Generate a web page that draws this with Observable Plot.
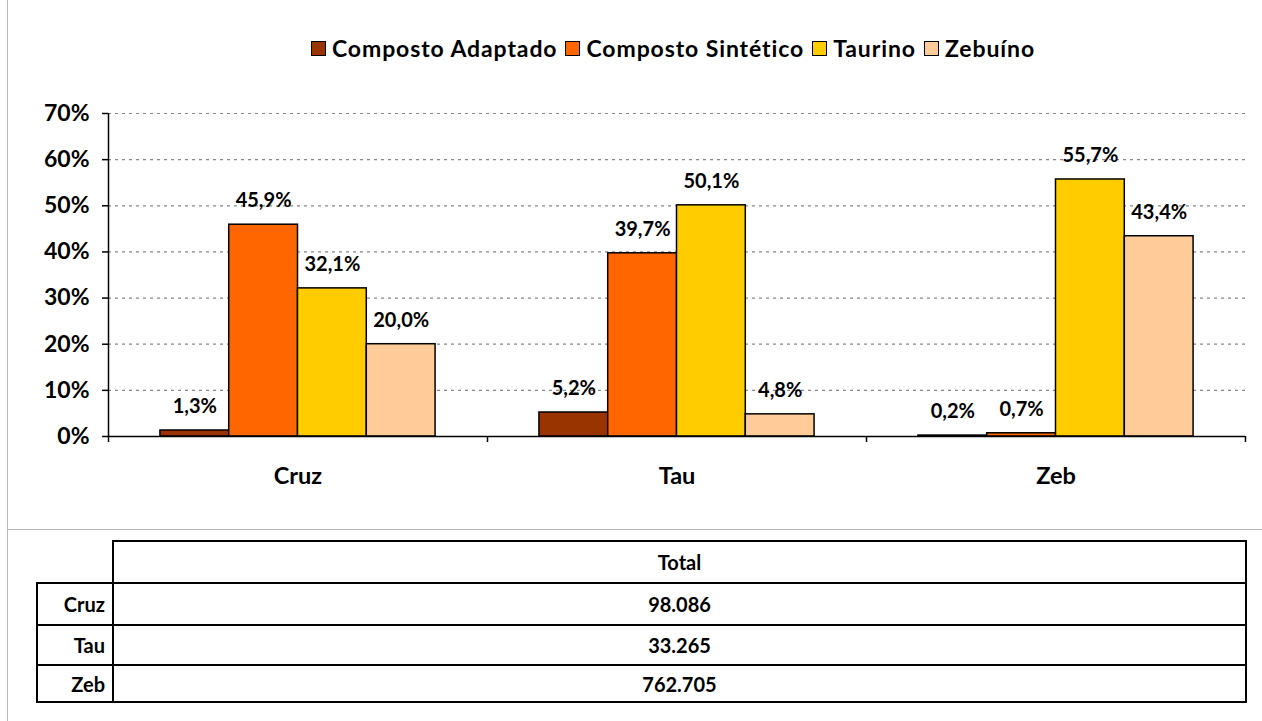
<!DOCTYPE html>
<html>
<head>
<meta charset="utf-8">
<script src="https://cdn.jsdelivr.net/npm/d3@7"></script>
<script src="https://cdn.jsdelivr.net/npm/@observablehq/plot@0.6"></script>
<style>
  body { margin: 0; background: white; font-family: Lato, "Open Sans", sans-serif; font-weight: bold; }
  #page { position: relative; width: 1262px; height: 721px; overflow: hidden; }
  #box { position: absolute; left: 7px; top: -1px; width: 1260px; height: 730px; border: 1px solid #b8b8b8; box-sizing: border-box; }
  #sep { position: absolute; left: 7px; top: 529px; width: 1255px; height: 0; border-top: 1px solid #b8b8b8; }
  #legend { position: absolute; top: 34px; left: 0; width: 1262px; height: 30px; }
  #legend .inner { position: absolute; left: 311px; top: 0; display: flex; align-items: center; font-size: 23px; letter-spacing: 0.9px; color: #000; white-space: nowrap; }
  .item { display: flex; align-items: center; margin-right: 8px; }
  .sw { width: 13px; height: 13px; border: 1.5px solid #000; margin-right: 6px; }
  #plot { position: absolute; top: 90px; left: 0; }
  table { position: absolute; left: 36px; top: 540px; width: 1211px; border-collapse: collapse; font-size: 20px; }
  td { border: 2px solid #000; padding: 0; }
  td.lab { width: 67px; text-align: right; padding-right: 7px; }
  td.val { text-align: center; }
  td.blank { border: none; border-right: 2px solid #000; border-bottom: 2px solid #000; }
</style>
</head>
<body>
<div id="page">
  <div id="box"></div>
  <div id="sep"></div>
  <div id="legend"><div class="inner"></div></div>
  <div id="plot"></div>
  <table id="tbl"></table>
</div>
<script>
const groups = ["Cruz", "Tau", "Zeb"];
const series = ["Composto Adaptado", "Composto Sintético", "Taurino", "Zebuíno"];
const colors = ["#993300", "#FF6600", "#FFCC00", "#FFCC99"];
const cruz = [1.3, 45.9, 32.1, 20.0];
const tau = [5.2, 39.7, 50.1, 4.8];
const zeb = [0.2, 0.7, 55.7, 43.4];
const tableHeader = "Total";
const totals = ["98.086", "33.265", "762.705"];
const yTicks = [0, 10, 20, 30, 40, 50, 60, 70];

const valuesByGroup = [cruz, tau, zeb];
const pad = 0.137, bw = 0.1815;
const rows = [];
groups.forEach((g, gi) => {
  series.forEach((s, si) => {
    const x1 = gi + pad + si * bw;
    rows.push({group: g, series: s, value: valuesByGroup[gi][si], x1, x2: x1 + bw, xm: x1 + bw / 2});
  });
});
const fmt = v => v.toFixed(1).replace(".", ",") + "%";

// legend
const leg = document.querySelector("#legend .inner");
series.forEach((s, i) => {
  const it = document.createElement("div");
  it.className = "item";
  const sw = document.createElement("div");
  sw.className = "sw";
  sw.style.background = colors[i];
  const t = document.createElement("span");
  t.textContent = s;
  it.appendChild(sw); it.appendChild(t);
  leg.appendChild(it);
});

const chart = Plot.plot({
  width: 1262,
  height: 440,
  marginLeft: 108,
  marginRight: 17,
  marginTop: 23,
  marginBottom: 94,
  style: {background: "transparent", fontFamily: "Lato, 'Open Sans', sans-serif", fontWeight: "bold", fontSize: "23px", color: "#000"},
  x: {domain: [0, 3], label: null},
  y: {domain: [0, 70], label: null},
  color: {domain: series, range: colors},
  marks: [
    Plot.gridY({ticks: yTicks.slice(1), stroke: "#888", strokeOpacity: 1, strokeDasharray: "3,4", strokeWidth: 1.2}),
    Plot.rect(rows, {x1: "x1", x2: "x2", y1: 0, y2: "value", fill: "series", stroke: "#000", strokeWidth: 1.5}),
    Plot.ruleY([0], {stroke: "#000", strokeWidth: 1.5}),
    Plot.ruleX([0], {y1: 0, y2: 70, stroke: "#000", strokeWidth: 1.5}),
    Plot.axisY({ticks: yTicks, tickFormat: d => d + "%", tickSize: 6, tickPadding: 13, stroke: "#000", strokeWidth: 1.5, fontSize: 23, label: null}),
    Plot.axisX({ticks: [0, 1, 2, 3], tickFormat: () => "", tickSize: 6, stroke: "#000", strokeWidth: 1.5, label: null}),
    Plot.text(groups, {x: (d, i) => i + 0.5, y: 0, dy: 40, text: d => d, fontSize: 23.5, fill: "#000"}),
    Plot.text(rows, {x: "xm", y: "value", dy: -24, text: d => fmt(d.value), fontSize: 20, fill: "#000"})
  ]
});
document.getElementById("plot").appendChild(chart);

// table
const rowHeights = [42, 42, 40, 37];
const tbl = document.getElementById("tbl");
let tr = document.createElement("tr");
tr.style.height = rowHeights[0] + "px";
tr.innerHTML = `<td class="blank lab"></td><td class="val">${tableHeader}</td>`;
tbl.appendChild(tr);
groups.forEach((g, i) => {
  const r = document.createElement("tr");
  r.style.height = rowHeights[i + 1] + "px";
  r.innerHTML = `<td class="lab">${g}</td><td class="val">${totals[i]}</td>`;
  tbl.appendChild(r);
});
</script>
</body>
</html>
